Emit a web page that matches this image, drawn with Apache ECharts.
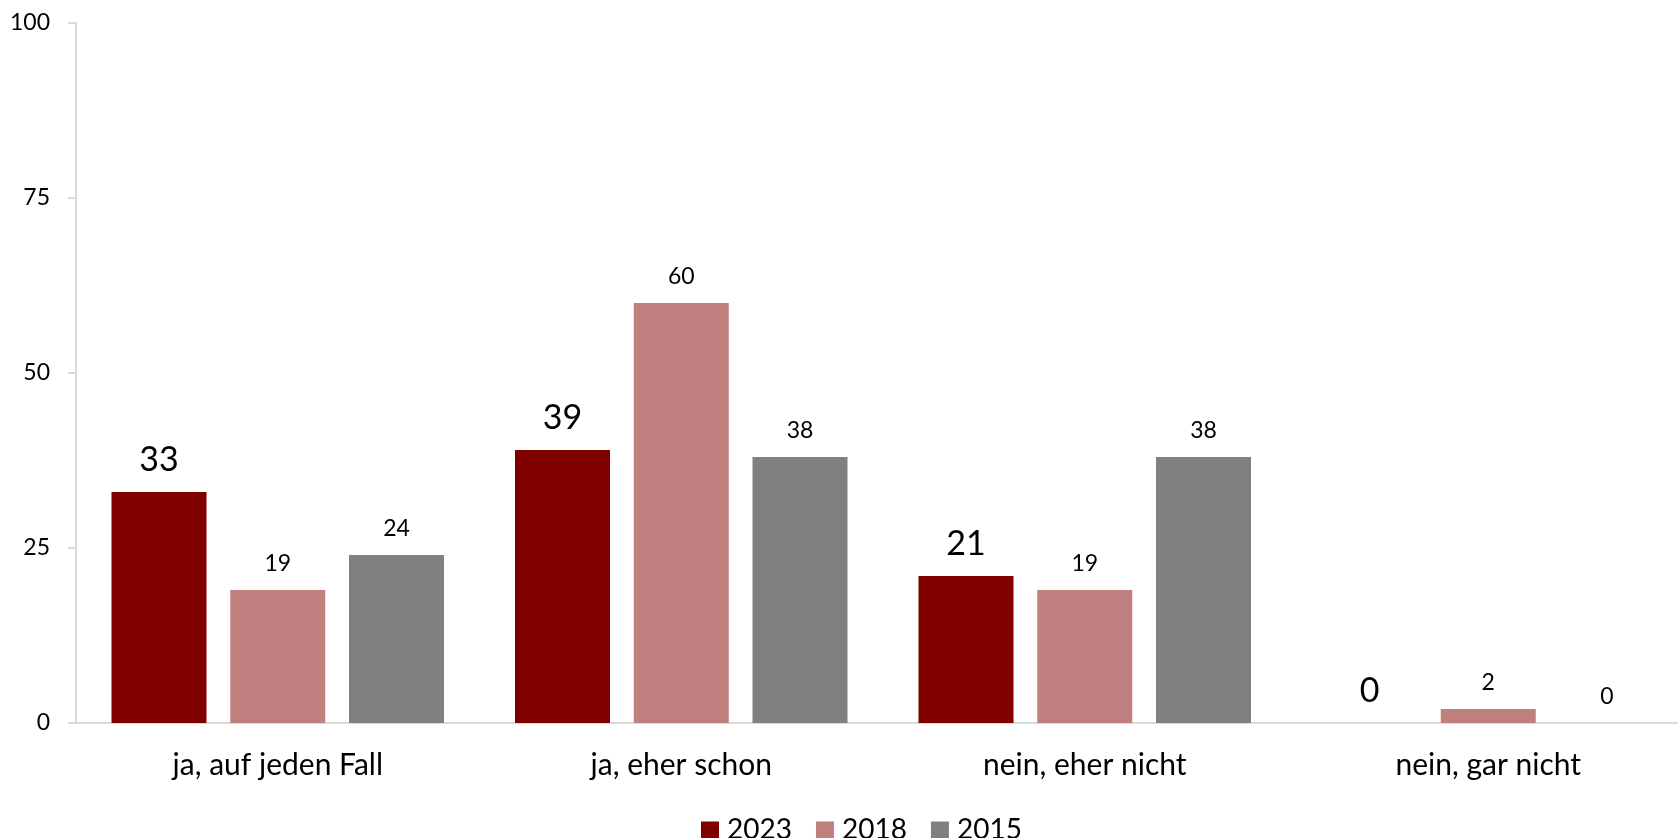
<!DOCTYPE html>
<html>
<head>
<meta charset="utf-8">
<script src="https://cdn.jsdelivr.net/npm/echarts@6/dist/echarts.min.js"></script>
<style>
  html, body { margin: 0; padding: 0; background: #ffffff; }
  #chart { width: 1678px; height: 838px; }
</style>
</head>
<body>
<div id="chart"></div>
<script>
// Survey answers, three survey years
const categories = ['ja, auf jeden Fall', 'ja, eher schon', 'nein, eher nicht', 'nein, gar nicht'];
const years = ['2023', '2018', '2015'];
const values2023 = [33, 39, 21, 0];
const values2018 = [19, 60, 19, 2];
const values2015 = [24, 38, 38, 0];
const yTicks = [0, 25, 50, 75, 100];

const colors = ['#800000', '#C08080', '#808080'];
const fontFamily = 'Lato, "Open Sans", sans-serif';

function barSeries(name, data, color, labelSize, labelDistance) {
  return {
    name: name,
    type: 'bar',
    data: data,
    barWidth: 95,
    barGap: '25%',
    itemStyle: { color: color },
    label: {
      show: true,
      position: 'top',
      distance: labelDistance,
      color: '#000000',
      fontFamily: fontFamily,
      fontSize: labelSize
    }
  };
}

const chart = echarts.init(document.getElementById('chart'), null, { renderer: 'canvas' });
chart.setOption({
  animation: false,
  backgroundColor: '#ffffff',
  // plot area runs slightly past the right edge of the canvas
  grid: { left: 76, width: 1614, top: 23, bottom: 115, containLabel: false, outerBoundsMode: 'none' },
  legend: {
    data: years,
    left: 696,
    top: 811,
    itemWidth: 18,
    itemHeight: 17,
    itemGap: 24,
    icon: 'rect',
    textStyle: { fontFamily: fontFamily, fontSize: 28, color: '#000000', padding: [0, 0, 0, 3] }
  },
  xAxis: {
    type: 'category',
    data: categories,
    axisLine: { show: true, lineStyle: { color: '#d9d9d9', width: 2 } },
    axisTick: { show: false },
    axisLabel: { color: '#000000', fontFamily: fontFamily, fontSize: 30, margin: 27 }
  },
  yAxis: {
    type: 'value',
    min: yTicks[0],
    max: yTicks[yTicks.length - 1],
    interval: yTicks[1] - yTicks[0],
    splitLine: { show: false },
    axisLine: { show: true, lineStyle: { color: '#d9d9d9', width: 2 } },
    axisTick: { show: true, length: 8, lineStyle: { color: '#d9d9d9', width: 2 } },
    axisLabel: { color: '#000000', fontFamily: fontFamily, fontSize: 23, margin: 26 }
  },
  series: [
    barSeries(years[0], values2023, colors[0], 34, 15),
    barSeries(years[1], values2018, colors[1], 23, 15),
    barSeries(years[2], values2015, colors[2], 23, 15)
  ]
});
</script>
</body>
</html>
